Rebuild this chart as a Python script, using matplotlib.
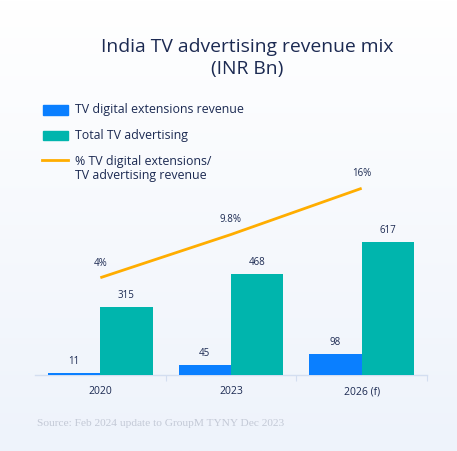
import numpy as np
import matplotlib
matplotlib.use("Agg")
import matplotlib.pyplot as plt
from matplotlib.patches import Rectangle
from matplotlib.lines import Line2D

categories = ["2020", "2023", "2026 (f)"]
digital_ext = [11, 45, 98]
total_tv = [315, 468, 617]
pct_share = [4, 9.8, 16]
pct_labels = ["4%", "9.8%", "16%"]

BLUE = "#0a7fff"
TEAL = "#00b5ad"
ORANGE = "#ffad00"
NAVY = "#1c2a52"
AXIS = "#d3def0"

W, H = 457, 451
fig = plt.figure(figsize=(W / 100, H / 100), dpi=100)
plt.rcParams['font.family'] = ['Open Sans', 'DejaVu Sans']

# background gradient
bg = fig.add_axes([0, 0, 1, 1], zorder=-10)
grad = np.linspace(0, 1, 256).reshape(-1, 1)
top = np.array([1.0, 1.0, 1.0])
bot = np.array([238, 243, 251]) / 255
img = top * (1 - grad[..., None]) + bot * grad[..., None]
bg.imshow(np.clip(img, 0, 1), aspect='auto', extent=[0, 1, 0, 1], origin='upper')
bg.axis('off')

def fx(px):
    return px / W

def fy(py):
    return 1 - py / H

ax_left, ax_right, ax_bottom, ax_top = 35, 427, 375, 150
ax = fig.add_axes([fx(ax_left), fy(ax_bottom), fx(ax_right - ax_left), (ax_bottom - ax_top) / H])
ax.patch.set_alpha(0)
x = np.arange(len(categories))
bw = 0.4
scale = 0.216
ax.bar(x - bw / 2, digital_ext, width=bw, color=BLUE, zorder=3)
ax.bar(x + bw / 2, total_tv, width=bw, color=TEAL, zorder=3)
ax.set_xlim(-0.5, 2.5)
ax.set_ylim(0, (ax_bottom - ax_top) / scale)
for i in range(len(categories)):
    ax.annotate(str(digital_ext[i]), (x[i] - bw / 2, digital_ext[i]), xytext=(0, 6),
                textcoords='offset pixels', ha='center', va='bottom', fontsize=7, color=NAVY)
    ax.annotate(str(total_tv[i]), (x[i] + bw / 2, total_tv[i]), xytext=(0, 6),
                textcoords='offset pixels', ha='center', va='bottom', fontsize=7, color=NAVY)

for s in ['top', 'right', 'left']:
    ax.spines[s].set_visible(False)
ax.spines['bottom'].set_color(AXIS)
ax.spines['bottom'].set_linewidth(1)
ax.set_yticks([])
ax.set_xticks(x)
ax.set_xticklabels(categories, fontsize=7.5, color=NAVY)
ax.tick_params(axis='x', which='major', length=0, pad=8)
ax.set_xticks([0.5, 1.5, 2.5], minor=True)
ax.tick_params(axis='x', which='minor', length=4, color=AXIS, width=0.8)

ax2 = ax.twinx()
ax2.patch.set_alpha(0)
pps = 7.45
zero_px = 307.5
ax2.set_ylim((zero_px - ax_bottom) / pps, (zero_px - ax_top) / pps)
ax2.plot(x, pct_share, color=ORANGE, lw=2, zorder=4, solid_capstyle='butt')
for i in range(len(categories)):
    ax2.annotate(pct_labels[i], (x[i], pct_share[i]), xytext=(0, 9),
                 textcoords='offset pixels', ha='center', va='bottom', fontsize=7, color=NAVY)
ax2.axis('off')

# title
fig.text(fx(247.5), fy(47), "India TV advertising revenue mix", ha='center', va='center',
         fontsize=13.9, color=NAVY)
fig.text(fx(247.5), fy(69), "(INR Bn)", ha='center', va='center', fontsize=13.9, color=NAVY)

# legend
fig.patches.append(Rectangle((fx(43), fy(115)), fx(25), 10 / H, transform=fig.transFigure,
                             color=BLUE, figure=fig))
fig.patches.append(Rectangle((fx(43), fy(140)), fx(25), 9 / H, transform=fig.transFigure,
                             color=TEAL, figure=fig))
fig.lines.append(Line2D([fx(42), fx(68)], [fy(160), fy(160)], transform=fig.transFigure,
                        color=ORANGE, lw=2, figure=fig))
LFS = 8.9
fig.text(fx(75), fy(110), "TV digital extensions revenue", ha='left', va='center', fontsize=LFS, color=NAVY)
fig.text(fx(75), fy(136), "Total TV advertising", ha='left', va='center', fontsize=LFS, color=NAVY)
fig.text(fx(75), fy(161), "% TV digital extensions/", ha='left', va='center', fontsize=LFS, color=NAVY)
fig.text(fx(75), fy(176), "TV advertising revenue", ha='left', va='center', fontsize=LFS, color=NAVY)

# source
fig.text(fx(37), fy(423), "Source: Feb 2024 update to GroupM TYNY Dec 2023", ha='left', va='center',
         fontsize=8.2, color="#c3c9d6", family=['Liberation Serif', 'DejaVu Serif'])

fig.savefig("out.png", dpi=100)
